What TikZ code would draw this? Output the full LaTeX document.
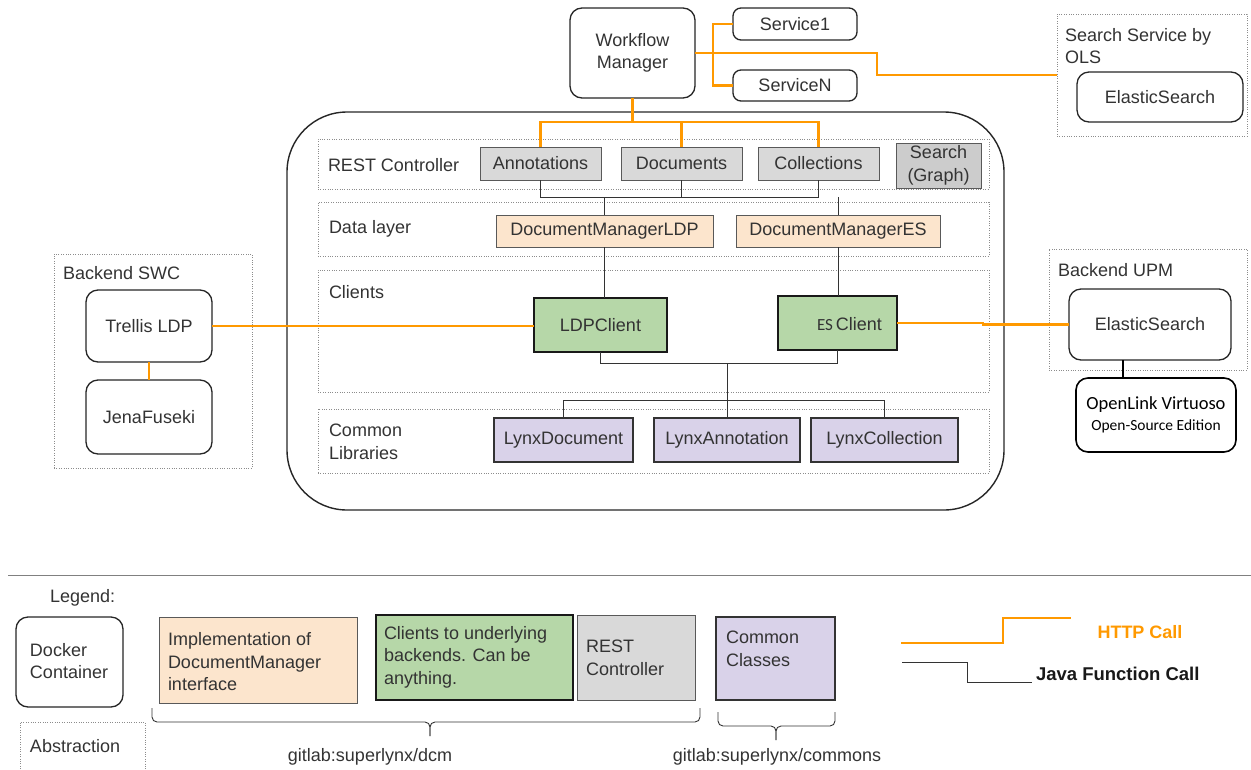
\documentclass[tikz,border=0pt]{standalone}
\usepackage{fontspec}
\setmainfont{Liberation Sans}
\newfontfamily\calfont{Carlito}
\definecolor{orng}{HTML}{FF9900}
\definecolor{grayfill}{HTML}{D9D9D9}
\definecolor{grayfillb}{HTML}{CCCCCC}
\definecolor{peach}{HTML}{FCE5CD}
\definecolor{lgreen}{HTML}{B6D7A8}
\definecolor{lpurple}{HTML}{D9D2E9}
\definecolor{txt}{HTML}{333333}
\definecolor{bord}{HTML}{595959}
\newcommand\mainfs{\fontsize{18}{22.5}\selectfont}
\begin{document}
\begin{tikzpicture}[x=1pt,y=-1pt,
  every node/.style={inner sep=0pt, outer sep=0pt, font=\mainfs, text=txt},
  wh/.style 2 args={minimum width=#1pt, minimum height=#2pt, anchor=north west},
  rbox/.style={draw=black!85, line width=1.3pt, rounded corners=12pt, fill=white, align=center},
  gbox/.style={draw=bord, line width=1pt, fill=grayfill},
  obox/.style={draw=bord, line width=1pt, fill=peach},
  grnbox/.style={draw=black!90, line width=1.8pt, fill=lgreen},
  pbox/.style={draw=black!80, line width=1.6pt, fill=lpurple},
  dotbox/.style={draw=black!45, line width=0.7pt, dash pattern=on 0.8pt off 1.6pt},
  http/.style={draw=orng, line width=2.3pt},
  java/.style={draw=black!80, line width=0.9pt},
  lbl/.style={anchor=west, align=left}]
\useasboundingbox (0,0) rectangle (1251,769);

% container and rows
\node[wh={717}{398}, draw=black!85, line width=1.4pt, rounded corners=60pt] (cont) at (287,112) {};
\node[dotbox, wh={671}{50}] (rowrest) at (318,139) {};
\node[dotbox, wh={671}{54}] (rowdata) at (318,202) {};
\node[dotbox, wh={671}{122}] (rowcli) at (318,270) {};
\node[dotbox, wh={671}{64}] (rowlib) at (318,409) {};
\node[lbl] (lrest) at (328,165) {REST Controller};
\node[lbl] (ldata) at (329,229) {Data layer};
\node[lbl] (lcli) at (329,292) {Clients};
\node[lbl] (llib) at (329,442) {Common\\Libraries};

% top
\node[rbox, wh={125}{90}] (wm) at (570,8) {Workflow\\Manager};
\node[rbox, wh={124}{32}, rounded corners=8pt] (s1) at (733,8) {Service1};
\node[rbox, wh={124}{31}, rounded corners=8pt] (sn) at (733,70) {ServiceN};
\node[dotbox, wh={190}{122}] (ss) at (1057,14) {};
\node[lbl] (sslbl) at (1065,46) {Search Service by\\OLS};
\node[rbox, wh={166}{50}] (ses) at (1077,72) {ElasticSearch};

% REST
\node[gbox, wh={121}{33}] (ann) at (480,147) {Annotations};
\node[gbox, wh={121}{33}] (doc) at (621,147) {Documents};
\node[gbox, wh={121}{33}] (col) at (758,147) {Collections};
\node[gbox, fill=grayfillb, wh={85}{45}, align=center] (srch) at (896,143) {Search\\(Graph)};

% data
\node[obox, wh={217}{32}] (dml) at (496,215) {DocumentManagerLDP};
\node[obox, wh={204}{32}] (dmes) at (736,215) {DocumentManagerES};

% clients
\node[grnbox, wh={119}{54}] (esc) at (778,296) {};
\node[grnbox, wh={133}{54}] (ldp) at (534,298) {LDPClient};
\node[anchor=west] (esct) at (817,324) {{\calfont\fontsize{17}{18}\selectfont ES}\,Client};

% libs
\node[pbox, wh={139}{44}] (ld) at (494,418) {LynxDocument};
\node[pbox, wh={146}{44}] (la) at (654,418) {LynxAnnotation};
\node[pbox, wh={147}{44}] (lc) at (811,418) {LynxCollection};

% backend SWC
\node[dotbox, wh={198}{214}] (swc) at (54,254) {};
\node[lbl] (swclbl) at (63,273) {Backend SWC};
\node[rbox, wh={126}{72}] (trellis) at (86,290) {Trellis LDP};
\node[rbox, wh={126}{74}] (jena) at (86,380) {JenaFuseki};

% backend UPM
\node[dotbox, wh={198}{121}] (upm) at (1049,249) {};
\node[lbl] (upmlbl) at (1058,270) {Backend UPM};
\node[rbox, wh={162}{71}] (ues) at (1069,289) {ElasticSearch};
\node[rbox, wh={160}{74}, line width=1.6pt, draw=black, text=black, font=\calfont\fontsize{18.5}{21}\selectfont] (ol) at (1076,378) {OpenLink Virtuoso\\{\fontsize{15.5}{17}\selectfont Open-Source Edition}};

% HTTP connectors
\coordinate (ob) at (632,122);
\draw[http] (wm.south) -- (wm.south |- ob);
\draw[http] (ann.north) |- (col.north |- ob) -- (col.north);
\draw[http] (doc.north) -- (doc.north |- ob);
\coordinate (ssj) at (877,75);
\draw[http] (wm.east) -| (ssj) -- (ssj -| ss.west);
\coordinate (tr) at (713,0);
\draw[http] (s1.west) -- (s1.west -| tr) -- (sn.west -| tr) -- (sn.west);
\draw[http] (trellis.east) -- (trellis.east -| ldp.west);
\draw[http] (trellis.south) -- (jena.north);
\coordinate (ej) at (983,0);
\draw[http] (esc.east) -- (esc.east -| ej) |- (ues.west);

% Java connectors
\coordinate (jb) at (600,197);
\draw[java] (ann.south) |- (col.south |- jb) -- (col.south);
\draw[java] (doc.south) -- (doc.south |- jb);
\draw[java] (dml.north) -- (dml.north |- jb);
\draw[java] (dmes.north) -- (dmes.north |- jb);
\draw[java] (dml.south) -- (dml.south |- ldp.north);
\draw[java] (dmes.south) -- (dmes.south |- esc.north);
\coordinate (cb) at (727,363);
\draw[java] (ldp.south) |- (esc.south |- cb) -- (esc.south);
\coordinate (lb) at (727,400);
\draw[java] (cb) -- (la.north);
\draw[java] (ld.north) |- (lc.north |- lb) -- (lc.north);
\coordinate (vx) at (1123,0);
\draw[java, line width=1.3pt, draw=black] (ues.south -| vx) -- (ol.north -| vx);

% separator
\draw[black!50, line width=1pt] (8,575) -- (1251,575);

% legend
\node[anchor=west] (leg) at (50,598) {Legend:};
\node[rbox, wh={107}{90}] (dock) at (16,617) {};
\node[lbl] (docklbl) at (30,661) {Docker\\Container};
\draw[dotbox] (20,769) |- (145,722) -- (145,769);
\node[lbl] (abs) at (30,746) {Abstraction};
\node[obox, wh={198}{86}] (lo) at (159,617) {};
\node[lbl] (lotxt) at (168,662) {Implementation of\\DocumentManager\\interface};
\node[grnbox, wh={197}{85}] (lg) at (376,615) {};
\node[lbl] (lgtxt) at (384,657) {Clients to underlying\\backends. Can be\\anything.};
\node[gbox, wh={118}{85}] (lr) at (577,615) {};
\node[lbl] (lrtxt) at (586,658) {REST\\Controller};
\node[pbox, wh={119}{83}] (lp) at (716,617) {};
\node[lbl] (lptxt) at (726,649) {Common\\Classes};

\draw[java, rounded corners=5pt] (152,708) |- (430,722) -- (430,736);
\draw[java, rounded corners=5pt] (700,708) |- (430,722) -- (430,736);
\node (g1) at (370,757) {gitlab:superlynx/dcm};
\draw[java, rounded corners=5pt] (718,712) |- (776,726) -- (776,740);
\draw[java, rounded corners=5pt] (835,712) |- (776,726) -- (776,740);
\node (g2) at (777,757) {gitlab:superlynx/commons};

\coordinate (h1) at (901,643);
\coordinate (h2) at (1071,618);
\coordinate (hm) at (1003,0);
\draw[http, line width=2pt] (h1) -- (h1 -| hm) -- (h2 -| hm) -- (h2);
\node[font=\mainfs\bfseries, text=orng] (httpl) at (1140,632) {HTTP Call};
\coordinate (j1) at (902,662);
\coordinate (j2) at (1032,682);
\coordinate (jm) at (967,0);
\draw[java] (j1) -- (j1 -| jm) -- (j2 -| jm) -- (j2);
\node[anchor=west, font=\fontsize{18.5}{22}\selectfont\bfseries, text=black!90] (javal) at (1036,674) {Java Function Call};
\end{tikzpicture}
\end{document}
